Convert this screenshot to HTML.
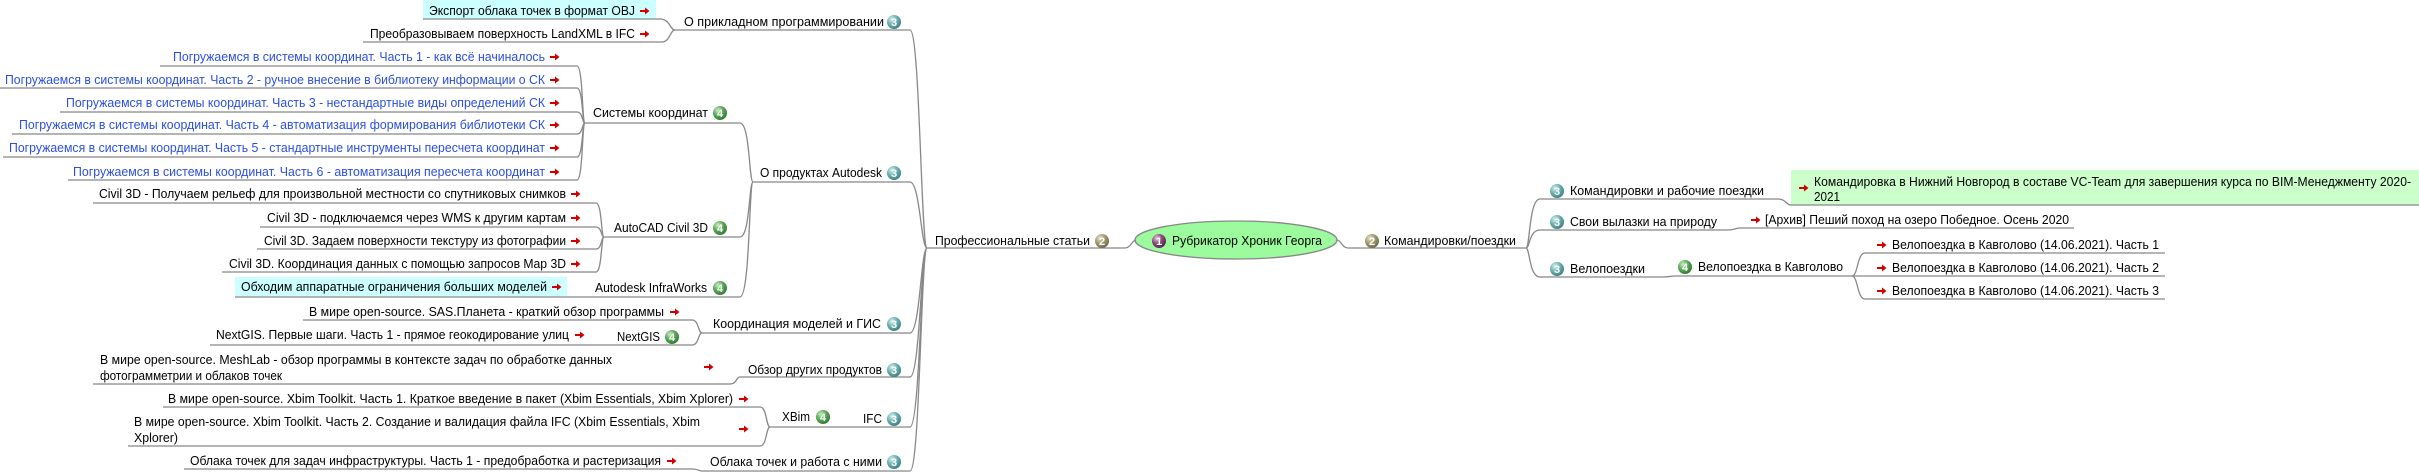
<!DOCTYPE html>
<html><head><meta charset="utf-8">
<style>
html,body{margin:0;padding:0;background:#fff;width:2419px;height:472px;overflow:hidden}
svg{display:block}
text{font-family:"Liberation Sans","DejaVu Sans",sans-serif;font-size:13px;fill:#000}
.b{fill:#2b4fe0}
.d{font-size:11px;fill:#fff;font-weight:bold;text-anchor:middle}
.u{stroke:#888;stroke-width:1.3;fill:none}
</style></head><body>
<svg width="2419" height="472" viewBox="0 0 2419 472" xmlns="http://www.w3.org/2000/svg">
<defs>
<radialGradient id="g3" cx="35%" cy="30%" r="75%"><stop offset="0" stop-color="#d8f0f0"/><stop offset="0.5" stop-color="#6cb0b0"/><stop offset="1" stop-color="#3a7f80"/></radialGradient>
<radialGradient id="g4" cx="35%" cy="30%" r="75%"><stop offset="0" stop-color="#c8f0c0"/><stop offset="0.5" stop-color="#5aa85a"/><stop offset="1" stop-color="#2e7a2e"/></radialGradient>
<radialGradient id="g2" cx="35%" cy="30%" r="75%"><stop offset="0" stop-color="#e8e4c8"/><stop offset="0.5" stop-color="#a09a70"/><stop offset="1" stop-color="#6e6a48"/></radialGradient>
<radialGradient id="g1" cx="35%" cy="30%" r="75%"><stop offset="0" stop-color="#e8c8e0"/><stop offset="0.5" stop-color="#8a4a7a"/><stop offset="1" stop-color="#5a2050"/></radialGradient>
<g id="ar"><path d="M0,0 h7" stroke="#d40000" stroke-width="2"/><path d="M5,-3.5 L9.5,0 L5,3.5 Z" fill="#d40000"/></g>
</defs>

<!-- highlights -->
<rect x="423" y="0" width="233" height="19" fill="#ccffff"/>
<rect x="235" y="277" width="332" height="19" fill="#ccffff"/>
<rect x="1791" y="170" width="628" height="35" fill="#ccffcc"/>
<ellipse cx="1236" cy="240" rx="101" ry="19" fill="#9cfb9c" stroke="#888" stroke-width="1.3"/>

<!-- connectors -->
<g class="u">
<!-- О прикладном -->
<path d="M423,19 H660 C670,19 670,30 675,30"/>
<path d="M363,42 H662 C670,42 670,30 675,30"/>
<path d="M675,30 H910 C920,30 921,248 927,248"/>
<!-- Системы -->
<path d="M160,66 H577 C583,66 582,123 585,123"/>
<path d="M0,88 H577 C583,88 582,123 585,123"/>
<path d="M60,112 H577 C583,112 582,123 585,123"/>
<path d="M12,134 H577 C583,134 582,123 585,123"/>
<path d="M3,157 H577 C583,157 582,123 585,123"/>
<path d="M68,180 H577 C583,180 582,123 585,123"/>
<path d="M585,123 H740 C750,123 749,182 753,182"/>
<!-- Civil -->
<path d="M93,203 H596 C602,203 601,237 604,237"/>
<path d="M260,227 H596 C602,227 601,237 604,237"/>
<path d="M257,249 H596 C602,249 601,237 604,237"/>
<path d="M222,272 H596 C602,272 601,237 604,237"/>
<path d="M604,237 H740 C750,237 749,182 753,182"/>
<path d="M235,297 H740 C750,297 749,182 753,182"/>
<path d="M753,182 H910 C920,182 921,248 927,248"/>
<!-- Координация -->
<path d="M303,320 H692 C699,320 698,333 702,333"/>
<path d="M210,345 H692 C699,345 698,333 702,333"/>
<path d="M702,333 H910 C920,333 921,248 927,248"/>
<!-- Обзор -->
<path d="M93,384 H730 C737,384 736,377 740,377"/>
<path d="M740,377 H910 C920,377 921,248 927,248"/>
<!-- IFC -->
<path d="M163,407 H760 C767,407 766,427 770,427"/>
<path d="M128,446 H760 C767,446 766,427 770,427"/>
<path d="M770,427 H910 C920,427 921,248 927,248"/>
<!-- Облака -->
<path d="M184,469 H692 C699,469 698,471 702,471"/>
<path d="M702,471 H910 C920,471 921,248 927,248"/>
<!-- center -->
<path d="M927,248 H1125 C1131,248 1132,240 1136,240"/>
<path d="M1337,240 C1341,240 1342,248 1348,248 H1526"/>
<!-- right -->
<path d="M1526,248 C1530,248 1529,199 1540,199 H1778 C1786,199 1786,205 1791,205 H2419"/>
<path d="M1526,248 C1530,248 1529,230 1540,230 H1728 C1735,230 1735,228 1740,228 H2074"/>
<path d="M1526,248 C1530,248 1529,277 1540,277 H1663 C1670,277 1670,276 1675,276 H1852"/>
<path d="M1852,276 C1858,276 1857,253 1865,253 H2165"/>
<path d="M1852,276 H2165"/>
<path d="M1852,276 C1858,276 1857,299 1865,299 H2165"/>
</g>

<!-- left texts -->
<text x="429" y="15" textLength="206" lengthAdjust="spacingAndGlyphs">Экспорт облака точек в формат OBJ</text><use href="#ar" x="640" y="11"/>
<text x="370" y="38" textLength="265" lengthAdjust="spacingAndGlyphs">Преобразовываем поверхность LandXML в IFC</text><use href="#ar" x="640" y="34"/>
<text x="684" y="26" textLength="200" lengthAdjust="spacingAndGlyphs">О прикладном программировании</text>

<text class="b" x="173" y="61" textLength="372" lengthAdjust="spacingAndGlyphs">Погружаемся в системы координат. Часть 1 - как всё начиналось</text><use href="#ar" x="550" y="57"/>
<text class="b" x="5" y="84" textLength="540" lengthAdjust="spacingAndGlyphs">Погружаемся в системы координат. Часть 2 - ручное внесение в библиотеку информации о СК</text><use href="#ar" x="550" y="80"/>
<text class="b" x="66" y="107" textLength="479" lengthAdjust="spacingAndGlyphs">Погружаемся в системы координат. Часть 3 - нестандартные виды определений СК</text><use href="#ar" x="550" y="103"/>
<text class="b" x="19" y="129" textLength="526" lengthAdjust="spacingAndGlyphs">Погружаемся в системы координат. Часть 4 - автоматизация формирования библиотеки СК</text><use href="#ar" x="550" y="125"/>
<text class="b" x="9" y="152" textLength="536" lengthAdjust="spacingAndGlyphs">Погружаемся в системы координат. Часть 5 - стандартные инструменты пересчета координат</text><use href="#ar" x="550" y="148"/>
<text class="b" x="73" y="176" textLength="472" lengthAdjust="spacingAndGlyphs">Погружаемся в системы координат. Часть 6 - автоматизация пересчета координат</text><use href="#ar" x="550" y="172"/>
<text x="593" y="117" textLength="115" lengthAdjust="spacingAndGlyphs">Системы координат</text>

<text x="99" y="198" textLength="467" lengthAdjust="spacingAndGlyphs">Civil 3D - Получаем рельеф для произвольной местности со спутниковых снимков</text><use href="#ar" x="571" y="194"/>
<text x="267" y="222" textLength="299" lengthAdjust="spacingAndGlyphs">Civil 3D - подключаемся через WMS к другим картам</text><use href="#ar" x="571" y="218"/>
<text x="264" y="245" textLength="302" lengthAdjust="spacingAndGlyphs">Civil 3D. Задаем поверхности текстуру из фотографии</text><use href="#ar" x="571" y="241"/>
<text x="229" y="268" textLength="337" lengthAdjust="spacingAndGlyphs">Civil 3D. Координация данных с помощью запросов Map 3D</text><use href="#ar" x="571" y="264"/>
<text x="614" y="232" textLength="94" lengthAdjust="spacingAndGlyphs">AutoCAD Civil 3D</text>
<text x="241" y="291" textLength="306" lengthAdjust="spacingAndGlyphs">Обходим аппаратные ограничения больших моделей</text><use href="#ar" x="552" y="287"/>
<text x="595" y="292" textLength="112" lengthAdjust="spacingAndGlyphs">Autodesk InfraWorks</text>
<text x="760" y="177" textLength="122" lengthAdjust="spacingAndGlyphs">О продуктах Autodesk</text>

<text x="309" y="316" textLength="355" lengthAdjust="spacingAndGlyphs">В мире open-source. SAS.Планета - краткий обзор программы</text><use href="#ar" x="670" y="312"/>
<text x="216" y="339" textLength="353" lengthAdjust="spacingAndGlyphs">NextGIS. Первые шаги. Часть 1 - прямое геокодирование улиц</text><use href="#ar" x="575" y="335"/>
<text x="617" y="341" textLength="43" lengthAdjust="spacingAndGlyphs">NextGIS</text>
<text x="713" y="328" textLength="168" lengthAdjust="spacingAndGlyphs">Координация моделей и ГИС</text>

<text x="100" y="364" textLength="512" lengthAdjust="spacingAndGlyphs">В мире open-source. MeshLab - обзор программы в контексте задач по обработке данных</text>
<text x="100" y="380" textLength="182" lengthAdjust="spacingAndGlyphs">фотограмметрии и облаков точек</text><use href="#ar" x="704" y="367"/>
<text x="748" y="374" textLength="134" lengthAdjust="spacingAndGlyphs">Обзор других продуктов</text>

<text x="168" y="403" textLength="565" lengthAdjust="spacingAndGlyphs">В мире open-source. Xbim Toolkit. Часть 1. Краткое введение в пакет (Xbim Essentials, Xbim Xplorer)</text><use href="#ar" x="739" y="399"/>
<text x="134" y="426" textLength="566" lengthAdjust="spacingAndGlyphs">В мире open-source. Xbim Toolkit. Часть 2. Создание и валидация файла IFC (Xbim Essentials, Xbim</text>
<text x="134" y="442" textLength="44" lengthAdjust="spacingAndGlyphs">Xplorer)</text><use href="#ar" x="739" y="429"/>
<text x="782" y="421" textLength="28" lengthAdjust="spacingAndGlyphs">XBim</text>
<text x="863" y="423" textLength="19" lengthAdjust="spacingAndGlyphs">IFC</text>

<text x="190" y="465" textLength="471" lengthAdjust="spacingAndGlyphs">Облака точек для задач инфраструктуры. Часть 1 - предобработка и растеризация</text><use href="#ar" x="667" y="461"/>
<text x="710" y="466" textLength="172" lengthAdjust="spacingAndGlyphs">Облака точек и работа с ними</text>

<text x="935" y="245" textLength="155" lengthAdjust="spacingAndGlyphs">Профессиональные статьи</text>
<text x="1172" y="245" textLength="150" lengthAdjust="spacingAndGlyphs">Рубрикатор Хроник Георга</text>
<text x="1384" y="245" textLength="132" lengthAdjust="spacingAndGlyphs">Командировки/поездки</text>

<!-- right texts -->
<text x="1570" y="195" textLength="194" lengthAdjust="spacingAndGlyphs">Командировки и рабочие поездки</text>
<use href="#ar" x="1799" y="188"/>
<text x="1814" y="186" textLength="597" lengthAdjust="spacingAndGlyphs">Командировка в Нижний Новгород в составе VC-Team для завершения курса по BIM-Менеджменту 2020-</text>
<text x="1814" y="201" textLength="26" lengthAdjust="spacingAndGlyphs">2021</text>
<text x="1570" y="226" textLength="147" lengthAdjust="spacingAndGlyphs">Свои вылазки на природу</text>
<use href="#ar" x="1751" y="220"/>
<text x="1765" y="224" textLength="304" lengthAdjust="spacingAndGlyphs">[Архив] Пеший поход на озеро Победное. Осень 2020</text>
<text x="1570" y="273" textLength="75" lengthAdjust="spacingAndGlyphs">Велопоездки</text>
<text x="1698" y="271" textLength="145" lengthAdjust="spacingAndGlyphs">Велопоездка в Кавголово</text>
<use href="#ar" x="1877" y="245"/><text x="1892" y="249" textLength="267" lengthAdjust="spacingAndGlyphs">Велопоездка в Кавголово (14.06.2021). Часть 1</text>
<use href="#ar" x="1877" y="268"/><text x="1892" y="272" textLength="267" lengthAdjust="spacingAndGlyphs">Велопоездка в Кавголово (14.06.2021). Часть 2</text>
<use href="#ar" x="1877" y="291"/><text x="1892" y="295" textLength="267" lengthAdjust="spacingAndGlyphs">Велопоездка в Кавголово (14.06.2021). Часть 3</text>

<!-- badges -->
<g>
<circle cx="894" cy="22" r="7" fill="url(#g3)"/><text class="d" x="894" y="26">3</text>
<circle cx="720" cy="113" r="7" fill="url(#g4)"/><text class="d" x="720" y="117">4</text>
<circle cx="720" cy="228" r="7" fill="url(#g4)"/><text class="d" x="720" y="232">4</text>
<circle cx="720" cy="288" r="7" fill="url(#g4)"/><text class="d" x="720" y="292">4</text>
<circle cx="894" cy="173" r="7" fill="url(#g3)"/><text class="d" x="894" y="177">3</text>
<circle cx="672" cy="337" r="7" fill="url(#g4)"/><text class="d" x="672" y="341">4</text>
<circle cx="894" cy="324" r="7" fill="url(#g3)"/><text class="d" x="894" y="328">3</text>
<circle cx="894" cy="370" r="7" fill="url(#g3)"/><text class="d" x="894" y="374">3</text>
<circle cx="823" cy="417" r="7" fill="url(#g4)"/><text class="d" x="823" y="421">4</text>
<circle cx="894" cy="419" r="7" fill="url(#g3)"/><text class="d" x="894" y="423">3</text>
<circle cx="894" cy="462" r="7" fill="url(#g3)"/><text class="d" x="894" y="466">3</text>
<circle cx="1102" cy="241" r="7" fill="url(#g2)"/><text class="d" x="1102" y="245">2</text>
<circle cx="1159" cy="241" r="7" fill="url(#g1)"/><text class="d" x="1159" y="245">1</text>
<circle cx="1372" cy="241" r="7" fill="url(#g2)"/><text class="d" x="1372" y="245">2</text>
<circle cx="1557" cy="191" r="7" fill="url(#g3)"/><text class="d" x="1557" y="195">3</text>
<circle cx="1557" cy="222" r="7" fill="url(#g3)"/><text class="d" x="1557" y="226">3</text>
<circle cx="1557" cy="269" r="7" fill="url(#g3)"/><text class="d" x="1557" y="273">3</text>
<circle cx="1685" cy="267" r="7" fill="url(#g4)"/><text class="d" x="1685" y="271">4</text>
</g>
</svg>
</body></html>
